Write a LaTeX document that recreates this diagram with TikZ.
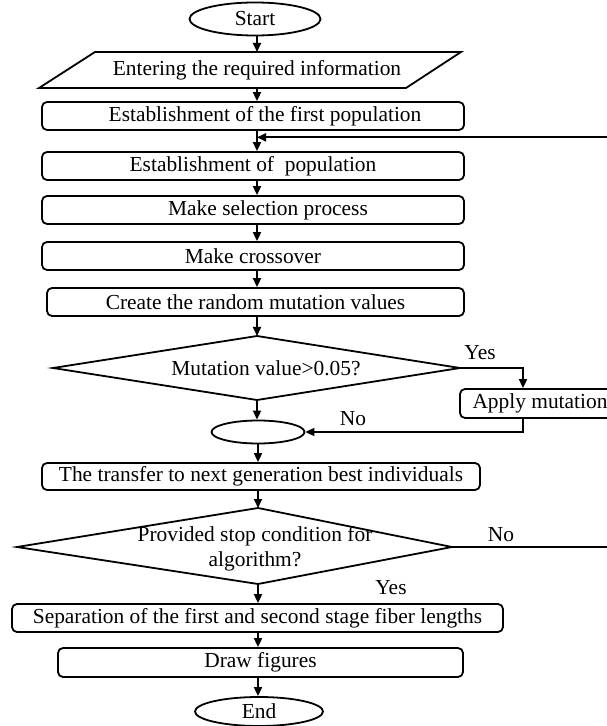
\documentclass[tikz,border=0pt]{standalone}
\usepackage{fontspec}
\setmainfont{Liberation Serif}
\usetikzlibrary{shapes.geometric,arrows.meta,calc}
\newcommand\fs{\fontsize{10.7}{12.5}\selectfont}
\tikzset{
  base/.style={draw=black, line width=0.9pt, font=\fs, inner sep=0pt, text=black},
  box/.style={base, rectangle, rounded corners=2.5pt, minimum height=14pt},
  oval/.style={base, ellipse},
  arr/.style={line width=0.9pt, -{Triangle[length=4.5pt,width=4pt]}},
  lbl/.style={font=\fs, inner sep=0pt, text=black},
  shape line/.style={line width=0.9pt, line join=miter},
}
\begin{document}
\begin{tikzpicture}[x=0.5pt, y=-0.5pt]
\useasboundingbox (0,0) rectangle (606,726);
\coordinate (sp) at (257,0);
% start
\node[oval, minimum width=65.5pt, minimum height=16.5pt] (start) at (255,19) {Start};
% input parallelogram
\coordinate (p1) at (39,88);
\coordinate (p2) at (95,52);
\coordinate (p3) at (461,52);
\coordinate (p4) at (406,88);
\draw[shape line] (p1) -- (p2) -- (p3) -- (p4) -- cycle;
\node[lbl] (inp) at (257,70) {Entering the required information};
% boxes
\node[box, minimum width=211pt] (b1) at (253,116) {};
\node[lbl] (b1txt) at (265,116) {Establishment of the first population};
\node[box, minimum width=211pt] (b2) at (253,166) {Establishment of\ \ population};
\node[box, minimum width=211pt] (b3) at (253,210) {};
\node[lbl] (b3txt) at (268,210) {Make selection process};
\node[box, minimum width=211pt] (b4) at (253,256) {Make crossover};
\node[box, minimum width=208.5pt] (b5) at (255.5,302) {Create the random mutation values};
% decision 1
\coordinate (d1t) at (257,336);
\coordinate (d1r) at (460,368);
\coordinate (d1b) at (257,400);
\coordinate (d1l) at (53,368);
\draw[shape line] (d1t) -- (d1r) -- (d1b) -- (d1l) -- cycle;
\node[lbl] (d1txt) at (266,368) {Mutation value>0.05?};
% apply mutation
\node[box, minimum width=80pt, minimum height=14.5pt] (apply) at (540,403.5) {Apply mutation};
% merge
\node[oval, minimum width=46.5pt, minimum height=11.5pt] (merge) at (258,432) {};
% transfer
\node[box, minimum width=219pt, minimum height=13.5pt] (transfer) at (261,476.5) {The transfer to next generation best individuals};
% decision 2
\coordinate (d2t) at (258,508);
\coordinate (d2r) at (452,547);
\coordinate (d2b) at (258,584);
\coordinate (d2l) at (17,547);
\draw[shape line] (d2t) -- (d2r) -- (d2b) -- (d2l) -- cycle;
\node[lbl, align=center] (d2txt) at (255,549) {Provided stop condition for\\algorithm?};
% bottom
\node[box, minimum width=245.5pt] (sep) at (257.5,618) {Separation of the first and second stage fiber lengths};
\node[box, minimum width=202.5pt, minimum height=14.5pt] (drawfig) at (260.5,662.5) {Draw figures};
\node[oval, minimum width=64pt, minimum height=14.5pt] (endn) at (259,711.5) {End};
% labels
\node[lbl] (yes1) at (480,353) {Yes};
\node[lbl] (no1) at (353,419) {No};
\node[lbl] (no2) at (501,535) {No};
\node[lbl] (yes2) at (391,588) {Yes};
% connectors
\draw[arr] (start.south -| sp) -- (p2 -| sp);
\draw[arr] (p1 -| sp) -- (b1.north -| sp);
\draw[arr] (b1.south -| sp) -- (b2.north -| sp);
\draw[arr] (b2.south -| sp) -- (b3.north -| sp);
\draw[arr] (b3.south -| sp) -- (b4.north -| sp);
\draw[arr] (b4.south -| sp) -- (b5.north -| sp);
\draw[arr] (b5.south -| sp) -- (d1t);
\draw[arr] (d1b) -- (merge.north -| d1b);
\draw[arr] (merge.south -| d2t) -- (transfer.north -| d2t);
\draw[arr] (transfer.south -| d2t) -- (d2t);
\draw[arr] (d2b) -- (sep.north -| d2b);
\draw[arr] (sep.south -| d2b) -- (drawfig.north -| d2b);
\draw[arr] (drawfig.south -| d2b) -- (endn.north -| d2b);
\draw[arr] (d1r) -| ($(apply.north)+(-17,0)$);
\draw[arr] ($(apply.south)+(-17,0)$) |- (merge.east);
\draw[arr] (d2r) -- ($(d2r)+(170,0)$) |- ($(b1.south -| sp)!0.32!(b2.north -| sp)$);
\end{tikzpicture}
\end{document}
